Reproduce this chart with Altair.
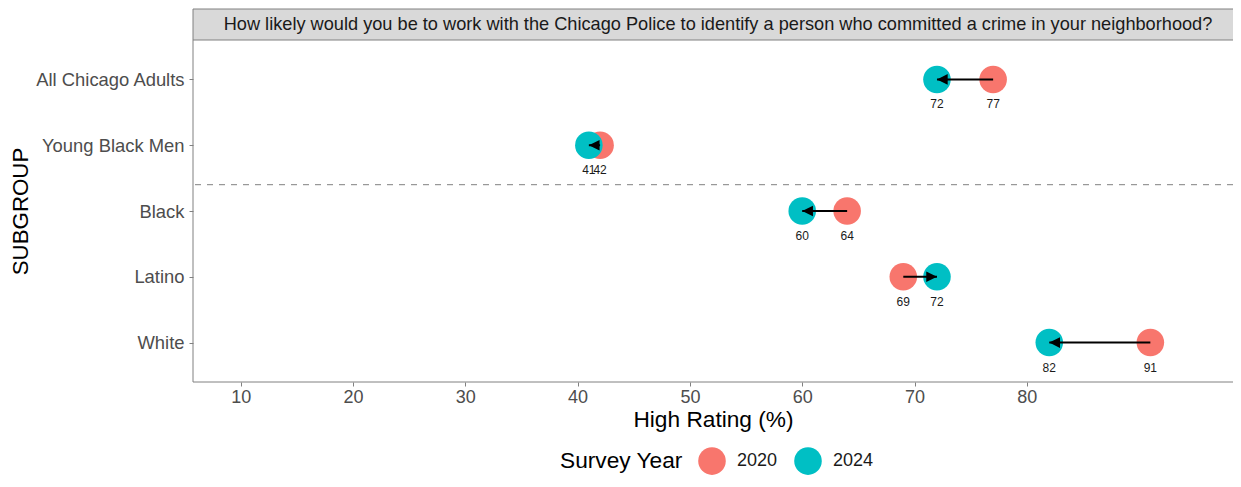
import altair as alt
import pandas as pd

# ---- data ----
subgroups = ["All Chicago Adults", "Young Black Men", "Black", "Latino", "White"]
rating_2020 = [77, 42, 64, 69, 91]
rating_2024 = [72, 41, 60, 72, 82]
years = ["2020", "2024"]
year_colors = ["#F8766D", "#00BFC4"]
x_ticks = [10, 20, 30, 40, 50, 60, 70, 80]
divider_pos = 3.4
question = ("How likely would you be to work with the Chicago Police to identify "
            "a person who committed a crime in your neighborhood?")

n = len(subgroups)
positions = [n - i for i in range(n)]  # top row highest

wide = pd.DataFrame({"subgroup": subgroups, "pos": positions,
                     "v2020": rating_2020, "v2024": rating_2024})
long = pd.concat([
    pd.DataFrame({"subgroup": subgroups, "pos": positions, "year": years[0], "value": rating_2020}),
    pd.DataFrame({"subgroup": subgroups, "pos": positions, "year": years[1], "value": rating_2024}),
], ignore_index=True)
long["order"] = range(len(long))

W, H = 1040, 342
FONT = "Liberation Sans"
GRAY = "#808080"

xscale = alt.Scale(domain=[5.75, 98.36], nice=False, zero=False)
yscale = alt.Scale(domain=[0.4, 5.6], nice=False, zero=False)

label_list = "[" + ",".join("'" + s + "'" for s in reversed(subgroups)) + "]"

x_axis = alt.Axis(values=x_ticks, title="High Rating (%)", titleFontSize=22.7,
                  titleFontWeight="normal", titleColor="black", labelFontSize=18,
                  labelColor="#4d4d4d", tickColor=GRAY, tickSize=4, domain=False,
                  grid=False, labelPadding=2, titlePadding=2, labelFlush=False)
y_axis = alt.Axis(values=positions, labelExpr=label_list + "[datum.value-1]",
                  title="SUBGROUP", titleFontSize=22.3, titleFontWeight="normal",
                  titleColor="black", labelFontSize=18.4, labelColor="#4d4d4d",
                  tickColor=GRAY, tickSize=4, domain=False, grid=False,
                  labelPadding=5, titlePadding=2)

base_long = alt.Chart(long)
base_wide = alt.Chart(wide)

points = base_long.mark_circle(size=760, opacity=1).encode(
    x=alt.X("value:Q", scale=xscale, axis=x_axis),
    y=alt.Y("pos:Q", scale=yscale, axis=y_axis),
    color=alt.Color("year:N", scale=alt.Scale(domain=years, range=year_colors),
                    legend=alt.Legend(title="Survey Year", orient="none", legendX=367,
                                      legendY=407, direction="horizontal",
                                      titleOrient="left", titleFontSize=22.7,
                                      titleFontWeight="normal", titleColor="black",
                                      labelFontSize=18, labelColor="#1a1a1a",
                                      symbolSize=760, symbolType="circle",
                                      symbolOpacity=1, symbolStrokeWidth=0,
                                      titlePadding=15, labelOffset=11, columnPadding=16)),
    order=alt.Order("order:Q"),
)

divider = alt.Chart(pd.DataFrame({"d": [divider_pos]})).mark_rule(
    strokeDash=[6, 6], color=GRAY, strokeWidth=1
).encode(y=alt.Y("d:Q", scale=yscale))

arrow_line = base_wide.mark_rule(color="black", strokeWidth=2).encode(
    x=alt.X("v2020:Q", scale=xscale), x2="v2024:Q", y=alt.Y("pos:Q", scale=yscale))

arrow_head = base_wide.transform_calculate(
    ang="datum.v2024 > datum.v2020 ? 0 : 180"
).mark_point(shape="M0,0L-1,-0.5L-1,0.5Z", filled=True, size=458, color="black",
             opacity=1, strokeWidth=0).encode(
    x=alt.X("v2024:Q", scale=xscale), y=alt.Y("pos:Q", scale=yscale),
    angle=alt.Angle("ang:Q", scale=None))

labels = base_long.mark_text(dy=25, fontSize=12, color="#1a1a1a", font=FONT).encode(
    x=alt.X("value:Q", scale=xscale), y=alt.Y("pos:Q", scale=yscale), text="value:Q")

# panel border (left and bottom; right edge lies outside the picture)
frame_df = pd.DataFrame({"k": [0]})
left_line = alt.Chart(frame_df).mark_rule(color=GRAY, strokeWidth=1).encode(
    x=alt.value(0), y=alt.value(0), y2=alt.value(H))
bottom_line = alt.Chart(frame_df).mark_rule(color=GRAY, strokeWidth=1).encode(
    x=alt.value(0), x2=alt.value(W + 20), y=alt.value(H))

strip_df = pd.DataFrame({"q": [question]})
strip_box = alt.Chart(strip_df).mark_rect(fill="#d9d9d9", stroke=GRAY,
                                           strokeWidth=1).encode(
    x=alt.value(0), x2=alt.value(W + 20), y=alt.value(-31), y2=alt.value(0))
strip_text = alt.Chart(strip_df).mark_text(fontSize=18.2, color="#1a1a1a", font=FONT,
                                            align="center", baseline="middle").encode(
    x=alt.value(525), y=alt.value(-15), text="q:N")

chart = alt.layer(divider, points, arrow_line, arrow_head, labels,
                  left_line, bottom_line, strip_box, strip_text).properties(
    width=W, height=H,
    padding={"left": 185, "top": 32, "right": 0, "bottom": 96},
    autosize=alt.AutoSizeParams(type="none"),
).configure(font=FONT).configure_view(strokeWidth=0)

chart.save("out.html", embed_options={"renderer": "svg", "actions": False})
